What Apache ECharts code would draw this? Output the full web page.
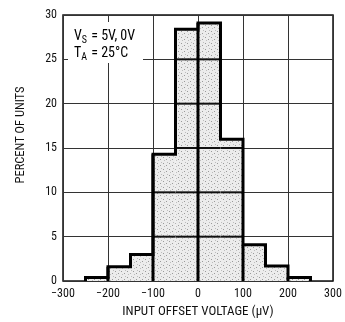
<!DOCTYPE html>
<html>
<head>
<meta charset="utf-8">
<script src="https://cdn.jsdelivr.net/npm/echarts@6/dist/echarts.min.js"></script>
<style>
  html, body { margin: 0; padding: 0; background: #fff; }
  #chart { width: 345px; height: 322px; }
</style>
</head>
<body>
<div id="chart"></div>
<script>
// Histogram bins of input offset voltage (µV) and share of units (%)
const binStarts = [-250, -200, -150, -100, -50, 0, 50, 100, 150, 200];
const binWidth = 50;
const percentUnits = [0.4, 1.6, 3.0, 14.3, 28.4, 29.1, 16.0, 4.1, 1.7, 0.4];
const xTicks = [-300, -200, -100, 0, 100, 200, 300];
const yTicks = [0, 5, 10, 15, 20, 25, 30];

const FONT = "'Roboto Condensed', 'Liberation Sans', Arial, sans-serif";

// Stippled fill texture for the bars
function stipple() {
  const c = document.createElement('canvas');
  c.width = 6; c.height = 6;
  const g = c.getContext('2d');
  g.fillStyle = '#ececec';
  g.fillRect(0, 0, 6, 6);
  g.fillStyle = '#9a9a9a';
  g.fillRect(1, 1, 1, 1);
  g.fillRect(4, 3, 1, 1);
  g.fillStyle = '#bdbdbd';
  g.fillRect(2, 4, 1, 1);
  g.fillRect(5, 0, 1, 1);
  return c;
}
const fillPattern = { image: stipple(), repeat: 'repeat' };

// Bars: [start, end, value]
const barData = binStarts.map((s, i) => [s, s + binWidth, percentUnits[i]]);

// Outline of the histogram as a step polyline
const outline = [];
binStarts.forEach((s, i) => {
  if (i === 0) outline.push([s, 0]);
  outline.push([s, percentUnits[i]]);
  outline.push([s + binWidth, percentUnits[i]]);
  if (i === binStarts.length - 1) outline.push([s + binWidth, 0]);
});

const chart = echarts.init(document.getElementById('chart'));
chart.setOption({
  animation: false,
  backgroundColor: '#fff',
  grid: {
    left: 63, right: 12, top: 15, bottom: 41, outerBoundsMode: 'none',
    show: true, borderColor: '#111', borderWidth: 1.5, backgroundColor: 'transparent'
  },
  xAxis: {
    type: 'value', min: xTicks[0], max: xTicks[xTicks.length - 1], interval: 100,
    name: 'INPUT OFFSET VOLTAGE (\u00b5V)', nameLocation: 'middle', nameGap: 24,
    nameTextStyle: { fontFamily: FONT, fontSize: 13, color: '#111' },
    axisLine: { show: false }, axisTick: { show: false },
    axisLabel: {
      fontFamily: FONT, fontSize: 12, color: '#111', margin: 7,
      formatter: v => (v < 0 ? '\u2212' + Math.abs(v) : String(v))
    },
    splitLine: { show: true, lineStyle: { color: '#333', width: 1 } }
  },
  yAxis: {
    type: 'value', min: yTicks[0], max: yTicks[yTicks.length - 1], interval: 5,
    axisLine: { show: false }, axisTick: { show: false },
    axisLabel: { fontFamily: FONT, fontSize: 12, color: '#111', margin: 6 },
    splitLine: { show: true, lineStyle: { color: '#333', width: 1 } }
  },
  graphic: [
    {
      // clear area behind the condition note
      type: 'rect', z: 40, silent: true,
      shape: { x: 68, y: 22, width: 75, height: 41 },
      style: { fill: '#fff' }
    },
    {
      type: 'text', x: 74, y: 28, z: 50,
      style: {
        text: '{n|V}{s|S}{n| = 5V, 0V}\n{n|T}{s|A}{n| = 25\u00b0C}',
        rich: {
          n: { fontFamily: FONT, fontSize: 14, color: '#111', lineHeight: 17 },
          s: { fontFamily: FONT, fontSize: 10, color: '#111', lineHeight: 17, padding: [7, 1, 0, 0] }
        }
      }
    },
    {
      type: 'text', x: 21, y: 135, rotation: Math.PI / 2, z: 50,
      style: {
        text: 'PERCENT OF UNITS', fontFamily: FONT, fontSize: 12.5, fill: '#111',
        align: 'center', verticalAlign: 'middle'
      }
    }
  ],
  series: [
    {
      type: 'custom',
      data: barData,
      z: 2,
      renderItem: (params, api) => {
        const x0 = api.value(0), x1 = api.value(1), v = api.value(2);
        const p0 = api.coord([x0, 0]);
        const p1 = api.coord([x1, v]);
        const children = [{
          type: 'rect',
          shape: { x: p0[0], y: p1[1], width: p1[0] - p0[0], height: p0[1] - p1[1] },
          style: { fill: fillPattern }
        }];
        // heavier grid lines where they cross the bars
        yTicks.forEach(t => {
          if (t > 0 && t < v) {
            const a = api.coord([x0, t]), b = api.coord([x1, t]);
            children.push({ type: 'line', shape: { x1: a[0], y1: a[1], x2: b[0], y2: b[1] },
              style: { stroke: '#111', lineWidth: 2 } });
          }
        });
        if (x0 % 100 === 0 && xTicks.indexOf(x0) > 0) {
          const a = api.coord([x0, 0]), b = api.coord([x0, v]);
          children.push({ type: 'line', shape: { x1: a[0], y1: a[1], x2: b[0], y2: b[1] },
            style: { stroke: '#000', lineWidth: 3 } });
        }
        return { type: 'group', children };
      }
    },
    {
      type: 'line',
      data: outline,
      z: 5,
      symbol: 'none',
      lineStyle: { color: '#000', width: 3, join: 'miter' }
    }
  ]
});
</script>
</body>
</html>
